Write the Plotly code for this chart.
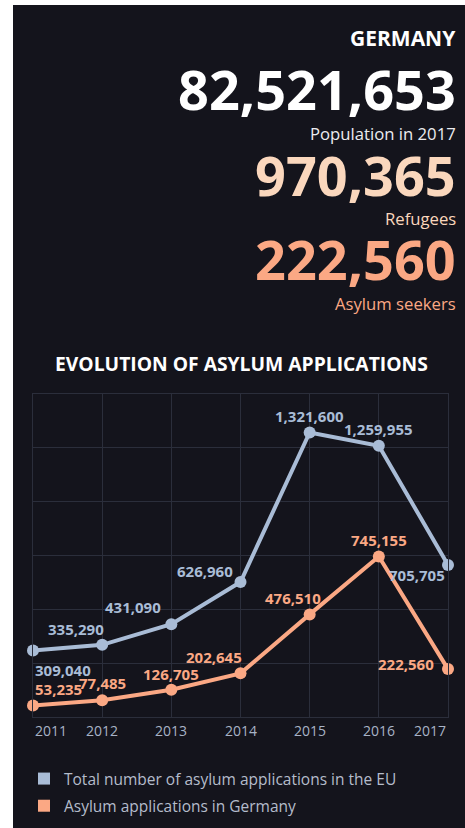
import plotly.graph_objects as go

# ---- data ----
years = [2011, 2012, 2013, 2014, 2015, 2016, 2017]
year_labels = ["2011", "2012", "2013", "2014", "2015", "2016", "2017"]
eu_total = [309040, 335290, 431090, 626960, 1321600, 1259955, 705705]
germany = [53235, 77485, 126705, 202645, 476510, 745155, 222560]
series_names = ["Total number of asylum applications in the EU", "Asylum applications in Germany"]

country = "GERMANY"
population = 82521653
refugees = 970365
asylum_seekers = 222560

# ---- label placement (style): (anchor, x shift px, y shift px) ----
eu_label_style = [("left", 0, -20), ("right", 4, 16), ("right", -8, 17), ("right", -6, 11),
                  ("center", 0, 16.5), ("center", 0, 16.5), ("right", -1, -10)]
de_label_style = [("left", 0, 17), ("center", 0, 17), ("center", 0, 16), ("right", 3, 16),
                  ("right", 13, 16), ("center", 0, 17), ("right", -12, 5)]

# ---- style ----
W, H = 465, 828
L, R, T, B = 33, 448, 394, 717  # plot area in pixels
BG = "#14141c"
GRID = "#2b2e3b"
BLUE = "#a9bcd6"
ORANGE = "#fba884"
PEACH = "#fad7bd"
FONT = "Open Sans"
PAPER_H = H - T  # paper spans from T down to bottom of figure


def px(x):
    return (x - L) / (R - L)


def py(y):
    return (H - y) / PAPER_H


fig = go.Figure()
for vals, col in [(eu_total, BLUE), (germany, ORANGE)]:
    fig.add_trace(go.Scatter(
        x=years, y=vals, mode="lines+markers",
        line=dict(color=col, width=4), marker=dict(color=col, size=12),
        showlegend=False, cliponaxis=False, hoverinfo="skip"))
# legend entries (square swatches)
for name, col in zip(series_names, [BLUE, ORANGE]):
    fig.add_trace(go.Scatter(x=[None], y=[None], mode="markers", name=name,
                             legendgroup=name,
                             marker=dict(symbol="square", size=12, color=col)))

annotations = []
# data labels
for vals, styles, col in [(eu_total, eu_label_style, BLUE), (germany, de_label_style, ORANGE)]:
    for yr, v, (anc, dx, dy) in zip(years, vals, styles):
        annotations.append(dict(text=f"{v:,}", xref="x", yref="y", x=yr, y=v,
                                xanchor=anc, yanchor="middle", xshift=dx, yshift=dy,
                                showarrow=False,
                                font=dict(family=FONT, size=15, color=col, weight="bold")))
# header
header = [
    (country, 38, 21, "white", "bold"),
    (f"{population:,}", 89, 54, "white", "bold"),
    ("Population in 2017", 133, 16.7, "#ececf0", "normal"),
    (f"{refugees:,}", 175, 54, PEACH, "bold"),
    ("Refugees", 218, 16.7, PEACH, "normal"),
    (f"{asylum_seekers:,}", 259, 54, ORANGE, "bold"),
    ("Asylum seekers", 303, 16.7, ORANGE, "normal"),
]
for txt, yy, size, col, wt in header:
    annotations.append(dict(text=txt, xref="paper", yref="paper", x=px(458), y=py(yy),
                            xanchor="right", yanchor="middle", showarrow=False,
                            font=dict(family=FONT, size=size, color=col, weight=wt)))
annotations.append(dict(text="EVOLUTION OF ASYLUM APPLICATIONS", xref="paper", yref="paper",
                        x=px(241), y=py(363), xanchor="center", yanchor="middle", showarrow=False,
                        font=dict(family=FONT, size=19.3, color="white", weight="bold")))
# x tick labels
for i, (yr, lab) in enumerate(zip(years, year_labels)):
    anchor = "left" if i == 0 else ("right" if i == len(years) - 1 else "center")
    annotations.append(dict(text=lab, xref="x", yref="paper", x=yr, y=py(730),
                            xanchor=anchor, yanchor="middle", showarrow=False,
                            font=dict(family=FONT, size=14, color="#a8b3c6")))

fig.update_layout(
    width=W, height=H,
    margin=dict(l=L, r=W - R, t=T, b=0, pad=0),
    paper_bgcolor="white", plot_bgcolor=BG,
    font=dict(family=FONT),
    shapes=[dict(type="rect", xref="paper", yref="paper", layer="below",
                 x0=px(13), x1=px(466), y0=py(830), y1=py(5),
                 fillcolor=BG, line=dict(width=0))],
    annotations=annotations,
    legend=dict(x=px(24), y=py(762), xanchor="left", yanchor="top",
                font=dict(family=FONT, size=15.5, color="#b4bccb"),
                bgcolor="rgba(0,0,0,0)", tracegroupgap=4, itemclick=False),
    xaxis=dict(range=[2011, 2017], tickvals=years, showticklabels=False,
               showgrid=True, gridcolor=GRID, gridwidth=1, zeroline=False,
               showline=True, linecolor=GRID, mirror=True, ticks=""),
    yaxis=dict(domain=[py(B), 1], range=[0, 1500000], dtick=250000, showticklabels=False,
               showgrid=True, gridcolor=GRID, gridwidth=1, zeroline=False,
               showline=True, linecolor=GRID, mirror=True, ticks=""),
)

fig.write_html("out.html", config={"displayModeBar": False},
               post_script="document.body.style.margin='0';document.body.style.overflow='hidden';")
